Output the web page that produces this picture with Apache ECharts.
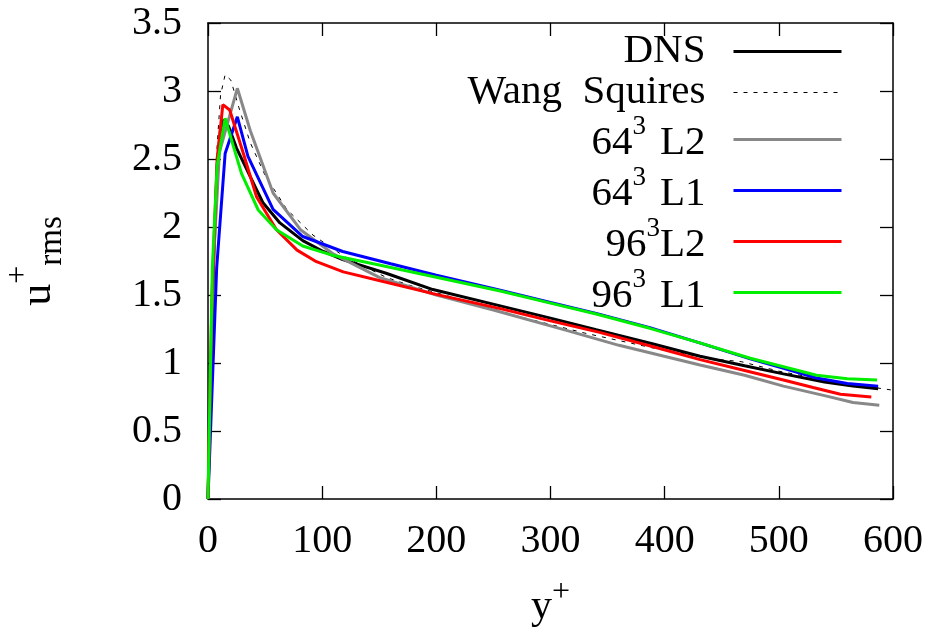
<!DOCTYPE html>
<html><head><meta charset="utf-8">
<script src="https://cdn.jsdelivr.net/npm/echarts@6/dist/echarts.min.js"></script>
<style>html,body{margin:0;padding:0;background:#fff}#c{width:934px;height:635px}</style>
</head><body><div id="c"></div>
<script>
// ---- data ----
const xTicks = [0, 100, 200, 300, 400, 500, 600];
const yTicks = [0, 0.5, 1, 1.5, 2, 2.5, 3, 3.5];
const seriesNames = ['DNS', 'Wang  Squires', '64³ L2', '64³ L1', '96³L2', '96³ L1'];

const dns = [[0,0],[2,0.75],[5,1.75],[8,2.45],[11,2.72],[14,2.79],[18,2.74],[25,2.58],[37,2.37],[48,2.18],[63,2.03],[83,1.90],[101,1.82],[118,1.76],[156,1.66],[197,1.54],[256,1.42],[300,1.33],[340,1.245],[390,1.14],[431,1.05],[470,0.98],[504,0.92],[540,0.86],[565,0.83],[587,0.81]];
const wangSquires = [[0,0],[4,1.6],[8,2.6],[11,2.97],[15,3.12],[20,3.08],[27,2.88],[37,2.62],[50,2.38],[69,2.13],[92,1.94],[120,1.78],[156,1.63],[177,1.57],[220,1.47],[273,1.34],[330,1.22],[390,1.11],[442,1.03],[467,1.01],[500,0.94],[550,0.86],[600,0.80]];
const g64L2 = [[0,0],[4.5,1.7],[10,2.55],[25.7,3.02],[37,2.71],[57,2.25],[81,1.98],[110,1.80],[150,1.63],[200,1.50],[250,1.39],[314,1.24],[360,1.13],[431,0.985],[470,0.91],[504,0.83],[540,0.76],[565,0.71],[588,0.69]];
const g64L1 = [[0,0],[7.6,1.7],[15,2.54],[25.7,2.81],[35,2.52],[57,2.13],[83,1.93],[118,1.82],[160,1.73],[200,1.645],[256,1.535],[300,1.445],[340,1.365],[387,1.26],[430,1.15],[475,1.03],[505,0.96],[533,0.89],[560,0.85],[587,0.83]];
const g96L2 = [[0,0],[3.5,1.5],[8,2.5],[13,2.9],[19,2.86],[31,2.54],[42.6,2.22],[60,1.98],[78,1.83],[95,1.745],[118.5,1.67],[148,1.61],[197,1.51],[256,1.40],[300,1.31],[343,1.225],[390,1.12],[431,1.025],[470,0.945],[504,0.875],[530,0.82],[554,0.77],[581,0.75]];
const g96L1 = [[0,0],[3.8,1.7],[8,2.45],[15,2.80],[22,2.6],[29.5,2.39],[44,2.125],[60,1.98],[83,1.86],[110,1.79],[150,1.72],[200,1.63],[256,1.53],[300,1.44],[340,1.36],[387,1.255],[430,1.15],[475,1.035],[510,0.96],[533,0.91],[560,0.885],[586,0.875]];

const seriesData = [dns, wangSquires, g64L2, g64L1, g96L2, g96L1];
const seriesColors = ['#000000', '#000000', '#888888', '#0000ff', '#ff0000', '#00ee00'];

// ---- chart ----
const FONT = 'Liberation Serif';
const chart = echarts.init(document.getElementById('c'), null, {renderer: 'canvas'});

function legendFmt(name) {
  const i = name.indexOf('³');
  if (i < 0) return '{p|' + name + '}';
  const base = name.slice(0, i);
  const rest = name.slice(i + 1);
  if (rest.startsWith(' ')) return '{n|' + base + '}{s|3}{g| }{n|' + rest.trim() + '}';
  return '{n|' + base + '}{s|3}{n|' + rest + '}';
}

const lineStyles = seriesColors.map((c, i) => i === 1
  ? {color: '#000', width: 1, type: [4, 6]}
  : {color: c, width: 3});

const series = seriesData.map((d, i) => ({
  name: seriesNames[i],
  type: 'line',
  data: d,
  symbol: 'none',
  showSymbol: false,
  animation: false,
  smooth: false,
  z: 2 + i,
  lineStyle: lineStyles[i],
  itemStyle: {color: seriesColors[i]}
}));

const baseAxisLine = {show: true, onZero: false, lineStyle: {color: '#000', width: 1.5}};
const tick = {show: true, inside: true, length: 13, lineStyle: {color: '#000', width: 1.3}};

chart.setOption({
  animation: false,
  backgroundColor: '#fff',
  grid: {left: 208, right: 41, top: 23, bottom: 136, containLabel: false, outerBoundsMode: 'none'},
  legend: {
    orient: 'vertical',
    right: 91,
    top: 31,
    padding: 0,
    itemGap: 0,
    itemWidth: 108,
    itemHeight: 14,
    align: 'right',
    selectedMode: false,
    itemStyle: {color: 'transparent', borderColor: 'transparent', borderWidth: 0, opacity: 0},
    data: seriesNames.map((n, i) => ({
      name: n,
      lineStyle: {color: lineStyles[i].color, width: lineStyles[i].width, type: lineStyles[i].type}
    })),
    formatter: legendFmt,
    textStyle: {
      fontFamily: FONT, fontSize: 41, color: '#000', padding: [0, 23, 0, 0],
      rich: {
        p: {fontFamily: FONT, fontSize: 41, lineHeight: 42, color: '#000'},
        n: {fontFamily: FONT, fontSize: 41, lineHeight: 42, height: 34, color: '#000', padding: [8, 0, 0, 0]},
        s: {fontFamily: FONT, fontSize: 27, lineHeight: 42, height: 16, color: '#000', padding: [0, 0, 26, 0]},
        g: {fontFamily: FONT, fontSize: 41, lineHeight: 42, height: 34, width: 14, padding: [8, 0, 0, 0]}
      }
    }
  },
  xAxis: [{
    type: 'value', min: xTicks[0], max: xTicks[xTicks.length - 1], interval: xTicks[1] - xTicks[0],
    position: 'bottom',
    axisLine: baseAxisLine, axisTick: tick, splitLine: {show: false},
    axisLabel: {fontFamily: FONT, fontSize: 40, color: '#000', margin: 22},
    name: '{y|y}{p|+}',
    nameLocation: 'middle', nameGap: 87, nameMoveOverlap: false,
    nameTextStyle: {
      rich: {
        y: {fontFamily: FONT, fontSize: 42, lineHeight: 42, color: '#000'},
        p: {fontFamily: FONT, fontSize: 32, lineHeight: 42, color: '#000', padding: [0, 0, 29, 0]}
      }
    }
  }, {
    type: 'value', min: xTicks[0], max: xTicks[xTicks.length - 1], interval: xTicks[1] - xTicks[0],
    position: 'top',
    axisLine: baseAxisLine, axisTick: tick, splitLine: {show: false}, axisLabel: {show: false}
  }],
  yAxis: [{
    type: 'value', min: yTicks[0], max: yTicks[yTicks.length - 1], interval: yTicks[1] - yTicks[0],
    position: 'left',
    axisLine: baseAxisLine, axisTick: tick, splitLine: {show: false},
    axisLabel: {fontFamily: FONT, fontSize: 40, color: '#000', margin: 26},
    name: '{u|u}{p|+}{r|rms}',
    nameLocation: 'middle', nameRotate: 90, nameGap: 148, nameMoveOverlap: false,
    nameTextStyle: {
      rich: {
        u: {fontFamily: FONT, fontSize: 44, lineHeight: 44, color: '#000'},
        p: {fontFamily: FONT, fontSize: 32, lineHeight: 44, color: '#000', padding: [0, 0, 39, 0]},
        r: {fontFamily: FONT, fontSize: 33, lineHeight: 44, color: '#000', padding: [28, 0, 0, 0]}
      }
    }
  }, {
    type: 'value', min: yTicks[0], max: yTicks[yTicks.length - 1], interval: yTicks[1] - yTicks[0],
    position: 'right',
    axisLine: baseAxisLine, axisTick: tick, splitLine: {show: false}, axisLabel: {show: false}
  }],
  series: series
});
</script>
</body></html>
